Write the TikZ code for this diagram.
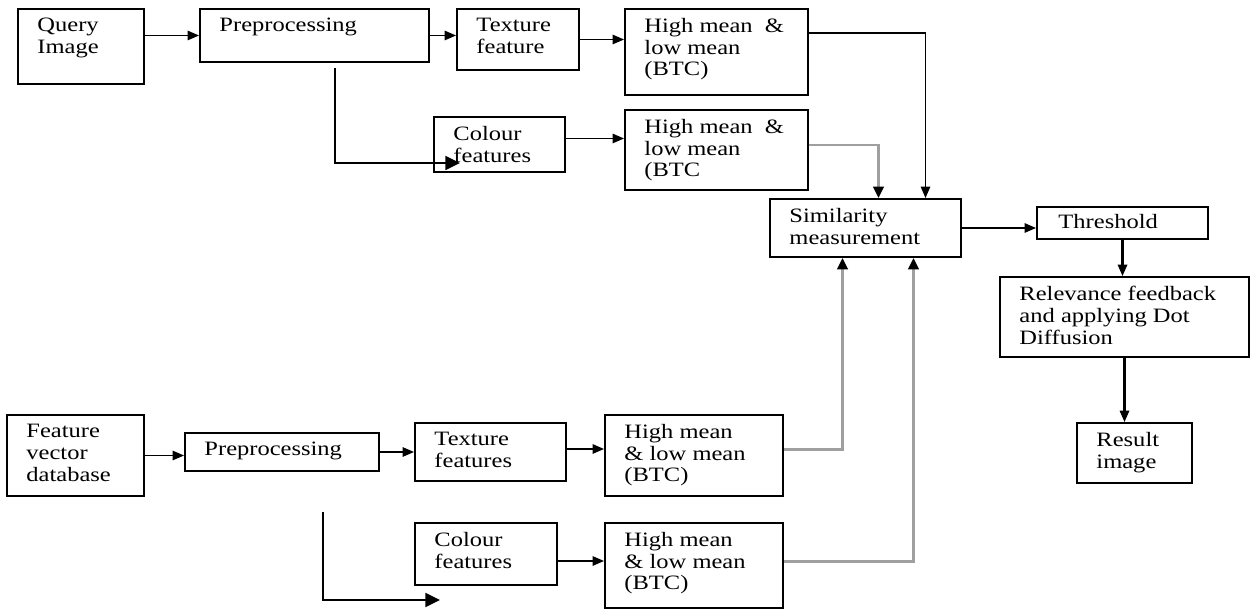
\documentclass[tikz,border=0pt]{standalone}
\usepackage{fontspec}
\setmainfont{Liberation Serif}[FakeStretch=1.2]
\usetikzlibrary{arrows.meta,fit}

\begin{document}
\begin{tikzpicture}[x=0.48pt, y=-0.48pt,
  box/.style={draw, line width=0.9pt, inner sep=0pt},
  txt/.style={anchor=north west, align=left, inner sep=0pt, shift={(20,10)},
    font=\fontsize{9.8}{10.4}\selectfont},
  arr/.style={line width=0.8pt, -{Triangle[length=5.5pt,width=4.5pt]}},
  grayarr/.style={gray!75, line width=1.4pt, -{Triangle[length=5.5pt,width=5pt,color=black]}},
  thickarr/.style={line width=1.3pt, -{Triangle[length=7pt,width=6.5pt]}}
]
\useasboundingbox (0,0) rectangle (1250,610);

% Query image branch
\node[box, fit={(18,9) (144,84)}] (qimg) {};
\node[txt] (qimg-t) at (qimg.north west) {Query\\Image};
\node[box, fit={(200,9) (429,62)}] (pre1) {};
\node[txt] (pre1-t) at (pre1.north west) {Preprocessing};
\node[box, fit={(457,9) (579,70)}] (tex1) {};
\node[txt] (tex1-t) at (tex1.north west) {Texture\\feature};
\node[box, fit={(625,9) (808,95)}] (hm1) {};
\node[txt] (hm1-t) at (hm1.north west) {High mean \ \&\\low mean\\(BTC)};
\node[box, fit={(434,117) (565,172)}] (col1) {};
\node[txt] (col1-t) at (col1.north west) {Colour\\features};
\node[box, fit={(625,110) (808,190)}] (hm2) {};
\node[txt] (hm2-t) at (hm2.north west) {High mean \ \&\\low mean\\(BTC};

% Matching and output
\node[box, fit={(770,199) (961,257)}] (sim) {};
\node[txt] (sim-t) at (sim.north west) {Similarity\\measurement};
\node[box, fit={(1037,207) (1208,239)}] (thr) {};
\node[txt, shift={(2,-2)}] (thr-t) at (thr.north west) {Threshold};
\node[box, fit={(1000,277) (1249,357)}] (rel) {};
\node[txt] (rel-t) at (rel.north west) {Relevance feedback\\and applying Dot\\Diffusion};
\node[box, fit={(1077,423) (1192,483)}] (res) {};
\node[txt] (res-t) at (res.north west) {Result\\image};

% Database branch
\node[box, fit={(7,415) (144,496)}] (fvd) {};
\node[txt] (fvd-t) at (fvd.north west) {Feature\\vector\\database};
\node[box, fit={(185,433) (379,471)}] (pre2) {};
\node[txt] (pre2-t) at (pre2.north west) {Preprocessing};
\node[box, fit={(415,423) (566,481)}] (tex2) {};
\node[txt] (tex2-t) at (tex2.north west) {Texture\\features};
\node[box, fit={(605,415) (783,496)}] (hm3) {};
\node[txt] (hm3-t) at (hm3.north west) {High mean\\\& low mean\\(BTC)};
\node[box, fit={(415,523) (557,585)}] (col2) {};
\node[txt] (col2-t) at (col2.north west) {Colour\\features};
\node[box, fit={(605,523) (783,608)}] (hm4) {};
\node[txt] (hm4-t) at (hm4.north west) {High mean\\\& low mean\\(BTC)};

% Top connectors
\draw[arr] (qimg.east |- pre1.west) -- (pre1.west);
\draw[arr] (pre1.east) -- (pre1.east -| tex1.west);
\draw[arr] (tex1.east) -- (tex1.east -| hm1.west);
\draw[arr] ([shift={(0,-6)}]col1.east) -- ([shift={(0,-6)}]col1.east -| hm2.west);
\coordinate (q1) at (335,68);
\coordinate (q2) at (460,163);
\draw[thickarr] (q1) |- (q2);

% Into similarity
\draw[arr] ([shift={(0,-19)}]hm1.east) -| ([shift={(60,0)}]sim.north);
\draw[grayarr] ([shift={(0,-5)}]hm2.east) -| ([shift={(13,0)}]sim.north);
\draw[grayarr] ([shift={(0,-6)}]hm3.east) -| ([shift={(-23,0)}]sim.south);
\draw[grayarr] ([shift={(0,-4)}]hm4.east) -| ([shift={(48,0)}]sim.south);

% Output chain
\draw[arr] (sim.east) -- (sim.east -| thr.west);
\draw[arr, line width=1pt] (thr.south) -- (thr.south |- rel.north);
\draw[arr, line width=1pt] (rel.south) -- (rel.south |- res.north);

% Bottom connectors
\draw[arr] (fvd.east) -- (fvd.east -| pre2.west);
\draw[arr] (pre2.east) -- (pre2.east -| tex2.west);
\draw[arr] ([shift={(0,-3)}]tex2.east) -- ([shift={(0,-3)}]tex2.east -| hm3.west);
\draw[arr] ([shift={(0,7)}]col2.east) -- ([shift={(0,7)}]col2.east -| hm4.west);
\coordinate (d1) at (323,512);
\coordinate (d2) at (440,600);
\draw[thickarr] (d1) |- (d2);

\end{tikzpicture}
\end{document}
